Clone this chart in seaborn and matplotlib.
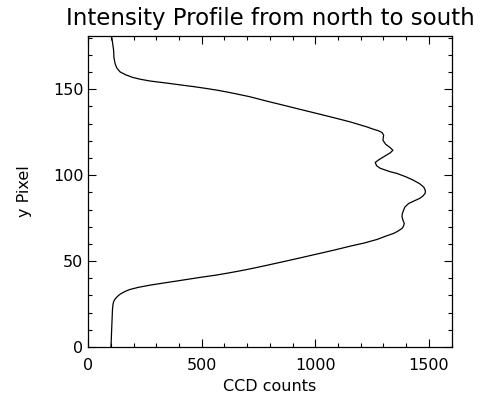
import numpy as np
import pandas as pd
import matplotlib
matplotlib.use("Agg")
import matplotlib.pyplot as plt
import seaborn as sns
from matplotlib.ticker import MultipleLocator

y_pixel = [0, 10, 20, 22.5, 25, 26.5, 27.7, 28.8, 30, 31.2, 32.4, 33.5, 34.7, 36, 37.5,
           39, 40.5, 41.9, 43, 44, 45, 46, 47.5, 49.6, 52, 54.1, 56.3, 58.7, 60.5, 62.6,
           64.5, 66.1, 67.5, 69, 70.5, 71.9, 73.5, 75.8, 77.5, 79.7, 81.5, 83.5, 85,
           86.5, 88, 89.5, 91, 93, 95, 97, 99, 101, 102, 104, 105.5, 107.4, 109, 111,
           113, 114.5, 116, 118, 120.3, 121.5, 123.3, 124.8, 125.8, 127, 128.1, 131,
           133.5, 135.9, 138.3, 140.7, 143.1, 145.7, 147.5, 148.5, 149.5, 150.5, 151.5,
           152.3, 153.6, 154.8, 155.8, 156.8, 158.4, 160.1, 162.5, 165, 168.5, 172.7,
           176, 180]
ccd_counts = [100, 103, 106, 107, 109, 112, 117, 124, 133, 146, 163, 184, 220, 272, 345,
              419, 492, 566, 614, 656, 695, 732, 785, 857, 938, 1007, 1080, 1154, 1215,
              1272, 1310, 1345, 1365, 1382, 1389, 1392, 1387, 1382, 1383, 1389, 1395,
              1411, 1435, 1460, 1475, 1484, 1485, 1478, 1460, 1433, 1400, 1360, 1330,
              1286, 1270, 1264, 1280, 1305, 1330, 1342, 1330, 1310, 1298, 1299, 1301,
              1294, 1279, 1250, 1227, 1154, 1080, 1007, 933, 860, 786, 710, 645, 607,
              566, 518, 466, 419, 345, 272, 230, 198, 165, 140, 125, 118, 113, 111.6,
              108, 104]

df = pd.DataFrame({"counts": ccd_counts, "ypix": y_pixel})

sns.set_style("ticks")
plt.rcParams['font.family'] = ['DejaVu Sans']

fig = plt.figure(figsize=(4.94, 4.08), dpi=100)
ax = fig.add_axes([0.1787, 0.1495, 0.7353, 0.7623])

sns.lineplot(data=df, x="counts", y="ypix", sort=False, estimator=None,
             color="black", linewidth=0.9, ax=ax)

ax.set_xlim(0, 1600)
ax.set_ylim(0, 181)
ax.xaxis.set_major_locator(MultipleLocator(500))
ax.xaxis.set_minor_locator(MultipleLocator(100))
ax.yaxis.set_major_locator(MultipleLocator(50))
ax.yaxis.set_minor_locator(MultipleLocator(10))
ax.tick_params(which="both", direction="in", top=True, right=True, color="black",
               width=0.8, labelsize=11.5, labelcolor="black")
ax.tick_params(which="major", length=6)
ax.tick_params(which="minor", length=3)
ax.tick_params(axis="x", pad=8)
for s in ax.spines.values():
    s.set_color("black")
    s.set_linewidth(0.9)

ax.set_xlabel("CCD counts", fontsize=11.5, color="black")
ax.set_ylabel("y Pixel", fontsize=11.5, color="black", labelpad=15)
ax.set_title("Intensity Profile from north to south", fontsize=16.5, color="black", pad=8)

fig.savefig("out.png", dpi=100)
